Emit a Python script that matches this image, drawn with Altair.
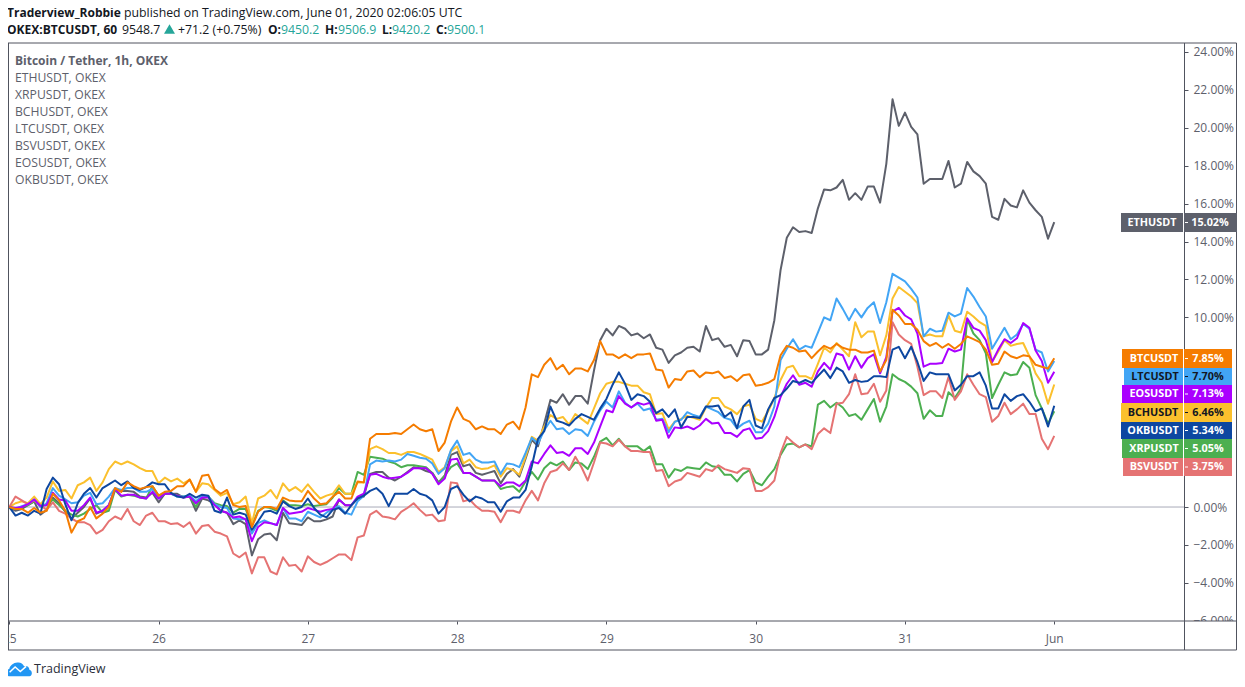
import altair as alt
import pandas as pd

ETH = [0,-.2,-.1,.1,.3,-.4,-.15,.5,.2,-.25,
-.6,-.3,0,.45,-.35,-.2,.1,.95,.85,.85,
.8,.55,.5,.75,.25,.7,.7,.7,.5,.55,
-.2,.45,.35,.15,-.2,-.3,-.9,-.7,-.9,-2.55,
-1.7,-1.45,-1.4,-1.75,-.3,-.85,-.9,-.95,-.55,-.75,
-.75,-.65,-.5,.4,.1,.1,.45,.55,1.75,1.85,
1.85,1.55,1.4,1.6,1.85,2.1,2.05,1.9,1.8,1.3,
1.65,2.75,2.9,2.15,2.25,1.8,1.7,1.8,1.9,1.25,
1.75,2.0,1.6,2.55,3.55,3.2,4.4,5.65,5.5,5.95,
5.4,5.85,5.85,5.45,7.2,8.8,9.4,9.05,9.55,9.4,
9.05,9.15,8.9,9.1,8.4,8.3,7.6,8.0,8.15,8.4,
8.45,8.2,9.55,8.8,8.9,8.45,8.55,7.95,8.8,8.75,
8.05,8.05,8.3,9.85,12.5,14.2,14.75,14.5,14.55,14.45,
15.75,16.75,16.7,16.85,17.25,16.2,16.55,16.2,16.9,16.9,
16.05,18.1,21.5,20.1,20.8,20.05,19.65,17.05,17.3,17.3,
17.3,18.25,16.85,17.05,18.2,17.7,17.45,17.05,15.3,15.15,
16.25,15.9,15.8,16.7,16.05,15.65,15.3,14.15,15.02]

XRP = [0,-.1,0,.1,.3,.1,.1,.4,.1,-.2,
-.4,-.5,-.35,-.1,.1,-.3,-.2,.9,.55,.65,
.6,.5,.45,1.1,.6,.7,.7,.6,.55,.55,
0,.6,.55,.2,.1,.05,-.3,-.1,-.1,-1.0,
-.2,0,-.05,-.2,.35,.1,.1,.05,.15,.05,
.1,.15,.5,1.0,.7,.7,1.85,1.7,2.65,2.6,
2.55,2.4,2.3,2.1,2.2,2.2,2.15,2.1,1.8,1.25,
1.65,2.1,2.3,1.8,1.8,1.6,1.4,1.4,1.4,.95,
1.05,1.1,.8,1.35,1.85,1.45,2.05,2.35,2.2,2.4,
1.95,2.35,2.3,2.0,2.65,3.45,3.65,3.25,3.6,3.2,
3.2,3.2,2.95,3.2,2.25,2.25,1.55,2.0,1.9,2.1,
2.05,2.0,2.35,2.15,2.1,1.7,1.7,1.35,1.75,1.95,
1.3,1.15,1.6,2.0,2.75,3.3,3.35,3.15,3.3,3.2,
5.4,5.6,5.25,5.5,5.25,4.8,4.9,4.6,5.15,5.7,
4.5,5.3,7.0,6.75,6.6,6.35,6.0,4.65,5.1,4.8,
4.8,6.05,5.75,6.25,9.9,9.15,8.8,8.1,5.75,6.45,
7.1,6.95,7.0,7.65,7.35,5.9,5.2,4.4,5.05]

BCH = [0,.2,.3,.2,.55,.15,.5,1.35,.85,.9,
.45,1.15,1.3,1.55,.85,1.3,2.0,2.4,2.25,2.4,
2.25,2.05,1.9,1.9,1.25,1.55,1.35,1.5,1.25,1.45,
.8,1.25,1.2,.9,.6,.75,.15,.25,.55,-.85,
.45,.6,.9,.45,1.25,.85,1.05,.8,1.2,.8,
.45,.6,.7,1.15,.7,.7,1.3,1.3,3.05,3.2,
3.05,2.85,2.85,2.75,2.9,2.9,2.8,2.65,2.5,1.85,
2.1,2.95,3.2,2.3,2.5,2.1,2.0,2.05,2.2,1.6,
2.05,1.95,1.7,2.65,3.7,3.5,4.25,4.85,4.65,4.75,
4.35,4.9,4.65,4.4,5.2,6.0,6.5,6.6,6.6,6.5,
6.4,6.4,6.05,5.95,4.9,4.95,4.1,4.5,4.65,4.8,
4.7,4.6,5.25,5.75,5.75,5.3,5.15,4.9,5.3,5.4,
4.65,4.5,5.05,5.75,6.7,7.35,7.45,6.9,6.9,6.75,
7.55,8.4,8.15,8.65,8.3,7.95,9.75,8.95,9.25,9.25,
8.0,9.05,11.0,11.6,11.35,11.1,10.75,9.0,9.1,9.0,
9.0,10.1,9.3,9.2,10.3,10.05,9.75,9.55,7.65,8.2,
8.8,8.5,8.6,8.65,7.95,7.05,6.55,5.45,6.46]

LTC = [0,-.1,.05,.15,.4,0,.2,1.0,.6,.4,
.2,.25,.6,.75,.15,.2,.55,1.0,.9,1.0,
1.0,.8,.8,.95,.45,.75,.7,.55,.55,.6,
.3,.6,.55,.15,0,-.05,-.6,-.65,-.65,-1.4,
-.85,-.7,-.85,-.95,-.05,-.6,-.6,-.75,-.25,-.4,
-.55,-.3,-.1,.05,-.3,-.4,.3,.6,2.25,2.45,
2.4,2.45,2.4,2.5,2.8,2.7,2.6,2.55,2.3,1.75,
2.05,3.0,3.5,2.75,2.85,2.5,2.35,2.35,2.4,1.75,
2.3,2.25,2.1,2.85,3.65,3.35,4.05,4.55,4.1,4.15,
3.85,4.1,4.05,3.75,4.5,5.1,5.55,5.25,6.1,5.5,
5.25,5.45,5.1,5.2,4.6,4.65,3.95,4.5,4.6,5.0,
4.85,4.75,5.3,5.15,5.0,4.7,4.6,4.15,4.4,4.55,
3.95,3.95,4.4,5.3,7.75,8.35,8.85,8.3,8.5,8.4,
9.2,10.0,9.85,11.0,10.45,9.85,10.45,10.0,10.5,10.8,
9.7,10.8,12.3,12.1,11.9,11.5,11.05,9.0,9.4,9.25,
9.3,10.25,10.05,10.2,11.55,11.1,10.55,10.05,8.35,8.9,
9.45,8.85,9.1,9.65,9.4,8.3,8.15,7.15,7.70]

BSV = [0,.55,.35,.15,.35,.1,-.15,.25,-.2,-.35,
-.6,-.8,-.8,-.95,-1.4,-1.2,-.75,-.5,-.65,-.1,
-.75,-.95,-.45,-.3,-.75,-.75,-.9,-.85,-1.05,-.8,
-1.4,-1.0,-.95,-1.3,-1.4,-1.55,-2.45,-2.65,-2.4,-3.5,
-2.65,-2.65,-3.4,-3.55,-2.65,-3.1,-3.05,-3.4,-2.6,-2.9,
-3.05,-2.9,-2.7,-2.5,-2.5,-2.8,-1.6,-1.5,-.4,-.2,
-.5,-.55,-.65,-.25,-.05,.2,-.15,-.45,-.4,-.75,
-.7,1.3,1.25,.3,.4,.05,-.2,-.2,-.25,-.8,
-.2,-.2,-.3,.35,.85,.35,1.25,1.85,1.95,2.3,
1.95,2.65,2.1,1.4,2.35,3.4,3.35,3.2,3.55,3.2,
2.95,2.95,2.9,2.9,1.9,1.95,1.1,1.35,1.45,1.8,
1.7,1.6,2.0,1.9,2.2,2.0,1.9,1.8,2.05,2.0,
.85,.85,1.05,1.4,2.85,3.7,3.4,3.15,3.3,3.05,
3.85,4.15,3.9,5.45,5.5,5.95,7.0,5.95,6.0,6.5,
5.55,6.15,9.75,9.1,8.8,8.6,7.4,5.9,6.1,6.1,
5.75,6.85,5.65,6.1,7.0,6.45,5.95,5.8,4.5,4.8,
5.5,4.9,5.15,5.45,4.9,4.9,3.6,3.05,3.75]

EOS = [0,-.05,0,.15,.4,.05,.1,.75,.4,.35,
-.2,-.2,.1,.5,-.3,-.2,.1,.95,.6,.65,
.65,.5,.45,.8,.45,.7,.7,.6,.5,.55,
.2,.5,.5,.1,-.2,-.3,-.55,-.5,-.65,-1.8,
-1.05,-.8,-.85,-.95,-.05,-.35,-.3,-.25,-.05,-.15,
-.25,-.15,-.1,.4,.1,.1,.55,.7,1.7,1.75,
1.6,1.5,1.55,1.6,1.8,2.05,2.05,2.05,1.75,1.2,
1.5,2.5,2.55,1.8,1.8,1.6,1.4,1.4,1.4,1.1,
1.3,1.3,1.1,1.4,2.4,2.3,2.8,3.25,2.85,2.9,
2.7,3.1,3.1,2.8,3.4,4.25,5.1,5.0,5.85,5.45,
5.25,5.5,5.4,5.5,4.55,4.6,3.65,4.2,4.15,4.25,
4.1,4.3,4.65,4.4,4.45,3.9,3.9,3.7,4.05,4.15,
3.6,3.65,4.0,4.75,5.8,6.5,6.95,6.45,6.55,6.35,
7.15,7.6,7.25,8.1,8.0,7.25,7.95,7.35,7.85,8.05,
7.05,7.9,10.3,10.5,10.1,9.9,9.15,7.4,7.55,7.55,
7.6,8.35,8.2,8.3,9.95,9.45,9.3,8.8,7.65,8.3,
8.85,8.65,8.9,9.7,9.45,8.25,7.7,6.55,7.13]

OKB = [0,-.45,-.3,-.45,-.2,-.35,.95,1.55,1.2,.15,
-.7,.2,.7,1.0,.5,1.0,1.2,1.4,1.15,1.35,
1.0,.9,1.05,1.3,1.2,1.2,.75,.55,.5,.7,
.5,.65,.6,-.2,-.3,.5,-.4,-.3,-.4,-1.2,
-.75,-.25,-.2,-.35,.3,.05,-.1,0,.45,-.05,
-.4,-.55,-.15,-.05,-.35,.1,.45,.6,.85,1.0,
.7,.05,.7,.7,.7,.95,.7,.6,.35,-.35,
0,.95,1.1,.65,.3,.55,.45,.25,.25,-.25,
.3,.5,.5,.9,2.15,3.6,4.0,5.3,4.55,4.45,
4.3,4.65,4.9,4.75,4.6,5.2,5.7,6.45,7.1,6.5,
5.65,5.95,5.85,5.55,4.95,5.15,4.75,5.15,4.2,4.75,
4.75,4.7,5.3,5.3,5.35,4.75,5.0,4.15,5.3,5.65,
4.3,4.15,5.15,5.75,5.9,6.25,6.65,6.55,6.7,6.55,
6.9,7.25,6.8,7.35,7.15,6.55,6.7,6.6,6.65,6.9,
6.9,6.85,8.3,8.45,7.85,8.45,7.65,6.65,7.1,7.0,
7.0,7.0,6.15,6.45,6.9,6.9,7.1,6.4,5.2,5.2,
5.95,5.6,5.85,5.95,5.55,5.05,5.2,4.25,5.34]

BTC = [0,-.1,-.1,-.3,-.05,-.3,-.2,.7,.35,-.2,
-1.35,-.75,-.6,0,-.6,-.35,0,1.0,.8,1.3,
1.1,.95,1.05,1.1,.6,.8,.85,1.1,1.1,1.45,
.8,1.65,1.7,.95,.7,.9,.1,0,.05,-1.05,
-.25,0,0,-.1,.5,.35,.3,.3,.85,.45,
.15,.2,.55,.8,.45,.45,1.35,1.3,3.6,3.85,
3.85,3.85,3.9,3.85,4.1,4.35,4.1,4.0,4.1,2.95,
3.4,4.5,5.25,4.65,4.5,4.1,4.25,4.1,4.1,3.85,
4.35,4.5,4.1,5.25,7.0,6.85,7.5,7.85,7.25,7.5,
7.0,7.3,7.3,7.15,7.75,8.75,8.05,8.05,7.85,8.05,
7.85,8.05,8.05,8.1,7.25,7.2,6.3,6.75,6.7,7.15,
7.2,6.85,7.1,7.05,7.15,6.8,6.9,6.65,6.95,7.0,
6.4,6.45,6.55,6.75,8.0,8.5,8.4,8.2,8.25,7.85,
8.2,8.5,8.35,8.6,8.4,8.3,8.3,8.15,8.15,8.25,
7.15,7.75,10.4,10.1,9.65,9.65,9.35,8.75,8.5,8.65,
8.4,8.6,8.35,8.6,9.0,8.85,8.7,8.3,7.5,7.55,
8.2,7.95,7.85,8.0,7.95,7.5,7.4,7.3,7.85]

series = {"ETHUSDT": ETH, "XRPUSDT": XRP, "BCHUSDT": BCH, "LTCUSDT": LTC,
          "BSVUSDT": BSV, "EOSUSDT": EOS, "OKBUSDT": OKB, "BTCUSDT": BTC}
colors = {"ETHUSDT": "#5d606b", "XRPUSDT": "#4caf50", "BCHUSDT": "#fbc02d", "LTCUSDT": "#42a5f5",
          "BSVUSDT": "#e57373", "EOSUSDT": "#aa00ff", "OKBUSDT": "#0d47a1", "BTCUSDT": "#f57c00"}
for k, v in series.items():
    assert len(v) == 169, (k, len(v))

rows = [{"hour": i, "pct": val, "sym": k} for k, v in series.items() for i, val in enumerate(v)]
df = pd.DataFrame(rows)

FONT = "Open Sans"
DARK = "#131722"
GREY = "#5d606b"
FRAME = "#50535e"
TEAL = "#26a69a"
ONE = alt.Data(values=[{}])
HN = 12.3
HB = 12

# page pixel -> plot pixel
def X(px): return px - 8
def Y(py): return py - 43

def text(s, px, py, color=DARK, size=12, weight="normal", align="left"):
    return alt.Chart(ONE).mark_text(
        text=s, font=FONT, fontSize=size, fontWeight=weight,
        align=align, baseline="middle", color=color
    ).encode(x=alt.value(X(px)), y=alt.value(Y(py)))

def hline(x1, x2, py, color=FRAME):
    return alt.Chart(ONE).mark_rule(color=color, strokeWidth=1).encode(
        x=alt.value(X(x1)), x2=alt.value(X(x2)), y=alt.value(Y(py)))

def vline(px, y1, y2, color=FRAME):
    return alt.Chart(ONE).mark_rule(color=color, strokeWidth=1).encode(
        x=alt.value(X(px)), y=alt.value(Y(y1)), y2=alt.value(Y(y2)))

def box(x1, x2, y1, y2, color):
    return alt.Chart(ONE).mark_rect(color=color).encode(
        x=alt.value(X(x1)), x2=alt.value(X(x2)), y=alt.value(Y(y1)), y2=alt.value(Y(y2)))

x_scale = alt.Scale(domain=[-0.21, 188.86], nice=False, zero=False)
y_scale = alt.Scale(domain=[-6.01, 24.47], nice=False, zero=False)
y_axis = alt.Axis(
    orient="right", values=list(range(-6, 25, 2)), title=None, grid=False, domain=False,
    tickColor=FRAME, tickSize=4, labelColor=GREY, labelFont=FONT, labelFontSize=12,
    labelPadding=5, labelOverlap=False, labelBound=False, labelFlush=False, zindex=0,
    labelExpr="format(datum.value,'.2f')+'%'")

lines = alt.Chart(df).mark_line(strokeWidth=2, strokeJoin="round").encode(
    x=alt.X("hour:Q", scale=x_scale, axis=alt.Axis(
        values=[0, 24, 48, 72, 96, 120, 144, 168], title=None, grid=False, domain=False,
        tickColor=FRAME, tickSize=3, labelColor=GREY, labelFont=FONT, labelFontSize=12,
        labelPadding=9, labelFlush=False, labelOverlap=False, labelBound=False, zindex=1,
        labelExpr="datum.value==168?'Jun':format(25+datum.value/24,'d')")),
    y=alt.Y("pct:Q", scale=y_scale, axis=y_axis),
    color=alt.Color("sym:N", scale=alt.Scale(domain=list(colors), range=list(colors.values())), legend=None),
    detail="sym:N",
)

zero = alt.Chart(pd.DataFrame({"pct": [0]})).mark_rule(color="#a9abb8", strokeWidth=1).encode(
    y=alt.Y("pct:Q", scale=y_scale, axis=y_axis), x=alt.value(0), x2=alt.value(1176))

RIGHT = 1236.5
layers = [zero, lines, box(1185, RIGHT, 621, 650, "white")]
layers += [hline(6.5, RIGHT, 43), hline(6.5, RIGHT, 650), hline(6.5, RIGHT, 621),
           vline(8.5, 43, 650), vline(RIGHT, 43, 650), vline(1184.5, 43, 650)]

tags = [("ETHUSDT", "15.02%", 1121, 1237, 213, 232, "white", 1152, 1210),
        ("BTCUSDT", "7.85%", 1122, 1232, 349, 368, "white", 1154, 1208),
        ("LTCUSDT", "7.70%", 1124, 1232, 368, 385, DARK, 1155, 1208),
        ("EOSUSDT", "7.13%", 1122, 1232, 385, 403, "white", 1154, 1208),
        ("BCHUSDT", "6.46%", 1121, 1232, 403, 422, DARK, 1153, 1208),
        ("OKBUSDT", "5.34%", 1121, 1232, 422, 439, "white", 1153, 1208),
        ("XRPUSDT", "5.05%", 1122, 1232, 439, 458, "white", 1154, 1208),
        ("BSVUSDT", "3.75%", 1123, 1232, 458, 476, "white", 1154, 1208)]
for name, pct, x1, x2, y1, y2, tc, tx, px in tags:
    layers.append(box(x1, x2, y1, y2, colors[name]))
    layers.append(vline(1183.5, y1, y2, "white"))
    layers.append(alt.Chart(ONE).mark_rule(color=tc, strokeWidth=1).encode(
        x=alt.value(X(1185)), x2=alt.value(X(1188)), y=alt.value(Y((y1 + y2) / 2))))
    layers.append(text(name, tx, (y1 + y2) / 2, tc, 10.8, "bold", "center"))
    layers.append(text(pct, px, (y1 + y2) / 2, tc, 10.8, "bold", "center"))

# header
layers += [text("Traderview_Robbie", 7, 13, DARK, HB, "bold"),
           text("published on TradingView.com, June 01, 2020 02:06:05 UTC", 124, 13, DARK, HN),
           text("OKEX:BTCUSDT, 60", 7, 29.5, DARK, HB, "bold"),
           text("9548.7", 122, 29.5, DARK, HN),
           text("+71.2 (+0.75%)", 178, 29.5, DARK, HN),
           text("O:", 268, 29.5, DARK, HB, "bold"), text("9450.2", 281, 29.5, TEAL, HN),
           text("H:", 325, 29.5, DARK, HB, "bold"), text("9506.9", 338, 29.5, TEAL, HN),
           text("L:", 382, 29.5, DARK, HB, "bold"), text("9420.2", 392, 29.5, TEAL, HN),
           text("C:", 436, 29.5, DARK, HB, "bold"), text("9500.1", 447, 29.5, TEAL, HN)]
layers.append(alt.Chart(ONE).mark_point(shape="triangle-up", filled=True, color=TEAL, size=120, opacity=1).encode(
    x=alt.value(X(169.5)), y=alt.value(Y(29))))

# pane legend
layers.append(text("Bitcoin / Tether, 1h, OKEX", 15, 60.5, GREY, 12, "bold"))
legend_names = ["ETHUSDT, OKEX", "XRPUSDT, OKEX", "BCHUSDT, OKEX", "LTCUSDT, OKEX",
                "BSVUSDT, OKEX", "EOSUSDT, OKEX", "OKBUSDT, OKEX"]
for i, s in enumerate(legend_names):
    layers.append(text(s, 15, 77.5 + 17 * i, GREY, 12.2))

# footer logo
CLOUD = ("M-.8,.55 C-1.1,.55 -1.1,.05 -.75,0 C-.7,-.3 -.35,-.55 -.05,-.5 C.15,-.5 .3,-.4 .4,-.2 "
         "C.55,-.3 .8,-.2 .8,.05 C1.05,.1 1.05,.55 .8,.55 Z")
ZIG = "M-.72,.25 L-.3,-.15 L.1,.2 L.55,-.2"
layers.append(alt.Chart(ONE).mark_point(shape=CLOUD, filled=True, color="#2196f3", size=676, opacity=1).encode(
    x=alt.value(X(19)), y=alt.value(Y(669))))
layers.append(alt.Chart(ONE).mark_point(shape=ZIG, filled=False, color="white", strokeWidth=1.5, size=676, opacity=1).encode(
    x=alt.value(X(19)), y=alt.value(Y(669))))
layers.append(text("TradingView", 34, 669, "#2a2e39", 12.5))

chart = alt.layer(*layers).properties(
    width=1176, height=578, autosize="none",
    padding={"left": 0, "top": 35, "right": 53, "bottom": 60},
).configure_view(stroke=None).resolve_scale(color="independent")

chart.save("out.html", embed_options={"renderer": "svg", "actions": False})
